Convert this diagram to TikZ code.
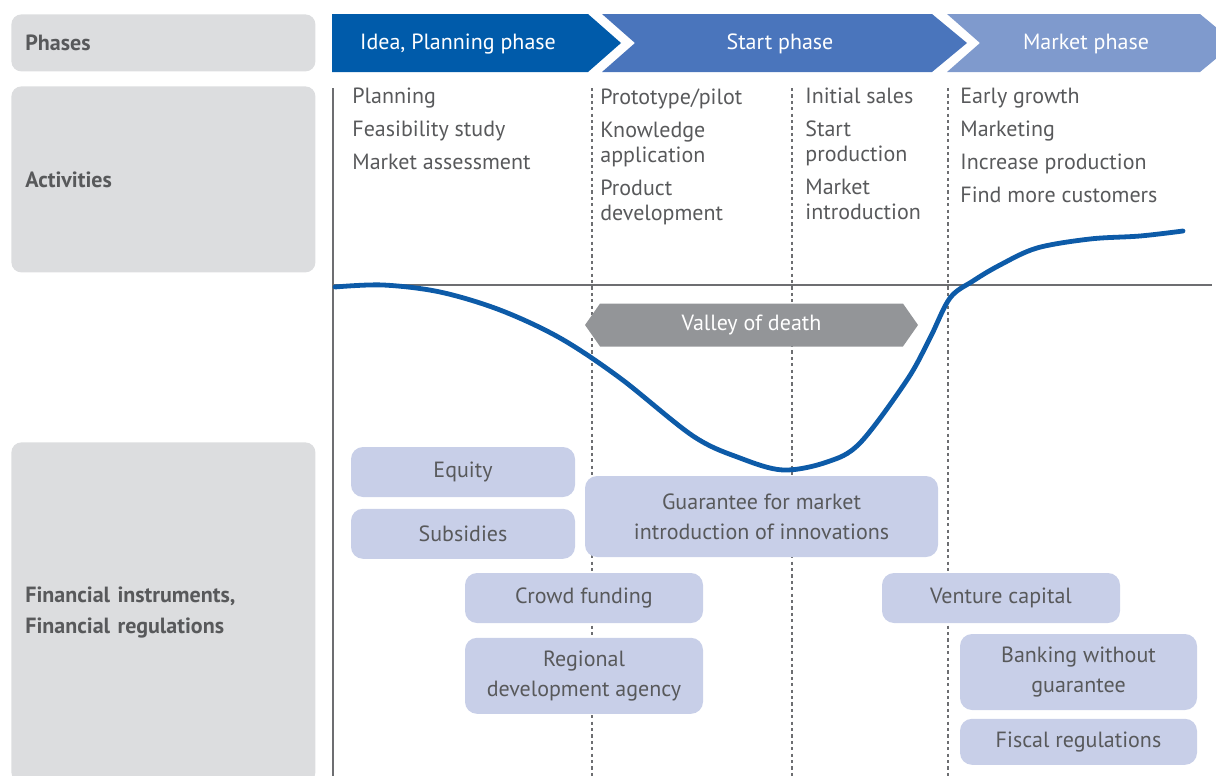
\documentclass[tikz,border=0pt]{standalone}
\usepackage{fontspec}
\setmainfont{PT Sans}
\usetikzlibrary{positioning,shapes.symbols}

\definecolor{phaseA}{HTML}{005BAA}
\definecolor{phaseB}{HTML}{4A75BC}
\definecolor{phaseC}{HTML}{7F9ACD}
\definecolor{headgray}{HTML}{DCDDDF}
\definecolor{txtgray}{HTML}{58595B}
\definecolor{linegray}{HTML}{6D6E71}
\definecolor{valleygray}{HTML}{939598}
\definecolor{instrfill}{HTML}{C8CFE8}
\definecolor{curveblue}{HTML}{0D5BA8}

\begin{document}
\begin{tikzpicture} [
    x=0.5pt, y=-0.5pt,
    node distance = 5.5pt and 5pt,
    rowhead/.style   = {fill=headgray,
                        rounded corners=5pt,
                        minimum width=152pt,
                        text width=138pt,
                        inner xsep=7pt,
                        align=left,
                        anchor=north west,
                        text=txtgray,
                        font=\bfseries\fontsize{11}{15.5}\selectfont},
    acttext/.style   = {anchor=north west,
                        inner sep=0pt,
                        align=left,
                        text=txtgray,
                        font=\fontsize{11}{12.5}\selectfont},
    phasetext/.style = {text=white,
                        font=\fontsize{11}{13}\selectfont},
    instr/.style     = {fill=instrfill,
                        rounded corners=6pt,
                        align=center,
                        inner sep=2pt,
                        text=txtgray,
                        font=\fontsize{11}{15}\selectfont},
    axis/.style      = {linegray,
                        line width=1.1pt},
    sep/.style       = {linegray,
                        line width=1.3pt,
                        dash pattern=on 1.6pt off 1.6pt},
    curve/.style     = {curveblue,
                        line width=2.4pt,
                        line cap=round}
]
\useasboundingbox (0,0) rectangle (1216,776);

% row headers
\node (phases) [rowhead, minimum height=28.5pt] at (11,14) {Phases};
\node (acts) [rowhead, minimum height=93pt] at (11,86) {Activities};
\node (fin) [rowhead, minimum height=170pt] at (11,442) {Financial instruments,\\Financial regulations};

% phase chevrons
\fill[phaseA] (332,14) -- (588,14) -- (621,43) -- (588,72) -- (332,72) -- cycle;
\fill[phaseB] (602,14) -- (932,14) -- (967,43) -- (932,72) -- (602,72) -- (635,43) -- cycle;
\fill[phaseC] (947,14) -- (1200,14) -- (1235,43) -- (1200,72) -- (947,72) -- (980,43) -- cycle;
\node (idea) [phasetext] at (458,44) {Idea, Planning phase};
\node (startph) [phasetext] at (780,44) {Start phase};
\node (marketph) [phasetext] at (1086,44) {Market phase};

% axes and phase borders
\draw[axis] (333,88) -- (333,776);
\draw[axis] (333,285) -- (1212,285);
\foreach \x in {592,792,948}
    \draw[sep] (\x,88) -- (\x,776);

% activities
\node (plan) [acttext] at (352,88) {Planning\\[4pt]Feasibility study\\[4pt]Market assessment};
\node (proto) [acttext] at (600,88) {Prototype/pilot\\[4pt]Knowledge\\application\\[4pt]Product\\development};
\node (sales) [acttext] at (805,88) {Initial sales\\[4pt]Start\\production\\[4pt]Market\\introduction};
\node (growth) [acttext] at (960,88) {Early growth\\[4pt]Marketing\\[4pt]Increase production\\[4pt]Find more customers};

% valley of death
\node (valley) [shape=signal, signal to=east and west, signal pointer angle=110,
    fill=valleygray, text=white, minimum width=166.5pt, minimum height=21.5pt,
    font=\fontsize{11}{13}\selectfont] at (751.5,325) {Valley of death};

\draw[curve] plot[smooth, tension=0.55] coordinates {
    (335,287) (383,285) (440,292) (500,310) (560,338) (620,378)
    (693,436) (740,458) (783,470) (827,462) (860,443) (907,380)
    (930,338) (950,298) (973,281) (1000,265) (1037,248) (1090,239)
    (1140,236) (1183,231)};

% financial instruments
\node (equity) [instr, minimum width=112pt, minimum height=25pt] at (463,472) {Equity};
\node (subsid) [instr, minimum width=112pt, minimum height=25pt, below=of equity] {Subsidies};
\node (guar) [instr, minimum width=176.5pt, minimum height=40.5pt] at (761.5,516.5) {Guarantee for market\\introduction of innovations};
\node (crowd) [instr, minimum width=119pt, minimum height=25pt] at (584,598) {Crowd funding};
\node (region) [instr, minimum width=119pt, minimum height=38pt, below=7pt of crowd] {Regional\\development agency};
\node (venture) [instr, minimum width=119pt, minimum height=25pt] at (1001,598) {Venture capital};
\node (bank) [instr, minimum width=118.5pt, minimum height=38pt] at (1078.5,672) {Banking without\\guarantee};
\node (fiscal) [instr, minimum width=118.5pt, minimum height=23pt, below=4pt of bank] {Fiscal regulations};
\end{tikzpicture}
\end{document}
